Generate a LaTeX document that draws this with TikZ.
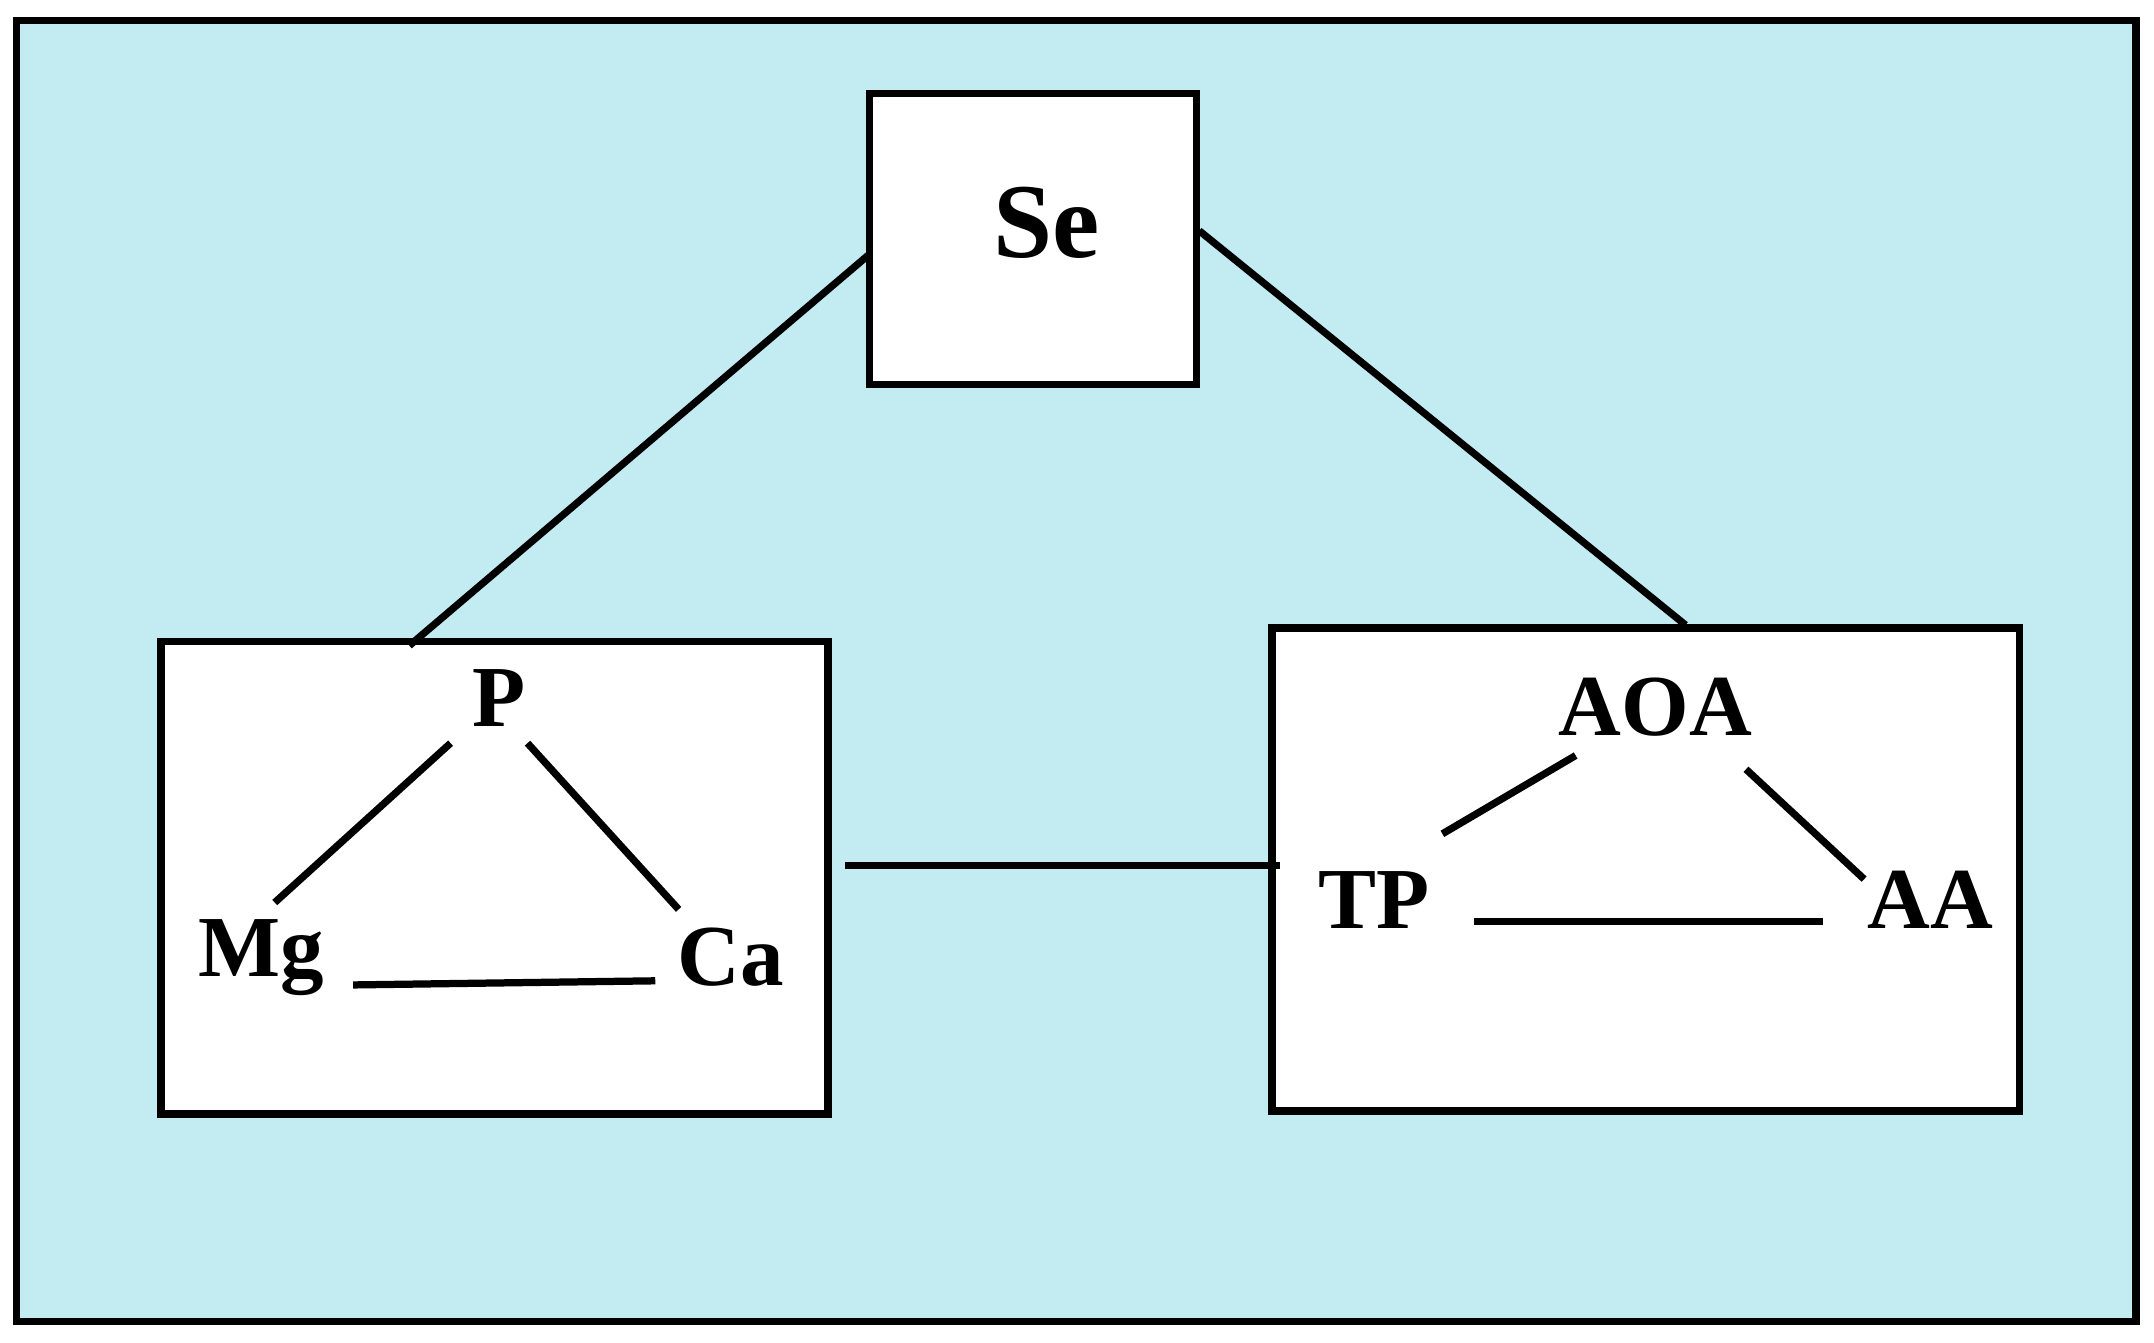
\documentclass[tikz,border=0pt]{standalone}
\usepackage{fontspec}
\setmainfont{Liberation Serif}
\definecolor{bgc}{HTML}{C2ECF2}
\begin{document}
\begin{tikzpicture}[x=0.01cm,y=-0.01cm,
  box/.style={draw=black,line width=1.6pt,fill=white},
  ln/.style={line width=1.5pt},
  lab/.style={font=\bfseries\fontsize{18}{18}\selectfont,inner sep=0pt}]
\useasboundingbox (0,0) rectangle (1568,977);
\draw[fill=bgc,line width=1.6pt] (12,15) rectangle (1555,962);
\draw[box] (633,68) rectangle (871,280);
\draw[box] (117,467) rectangle (603,811);
\draw[box] (926,457) rectangle (1470,809);
\node[lab,font=\bfseries\fontsize{22}{22}\selectfont] (se) at (762,162) {Se};
\coordinate (seL) at (633,185); \coordinate (seR) at (873,168);
\coordinate (lt) at (298,470); \coordinate (rt) at (1227,455);
\draw[ln] (seL) -- (lt);
\draw[ln] (seR) -- (rt);
\coordinate (mL) at (615,630); \coordinate (mR) at (932,630);
\draw[ln] (mL) -- (mR);
\node[lab] (p) at (363,508) {P};
\node[lab] (mg) at (190,697) {Mg};
\node[lab] (ca) at (532,697) {Ca};
\draw[ln] (328,541) -- (200,657);
\draw[ln] (384,541) -- (494,662);
\draw[ln] (257,717) -- (477,714);
\node[lab] (aoa) at (1205,515) {AOA};
\node[lab] (tp) at (1000,655) {TP};
\node[lab] (aa) at (1405,655) {AA};
\draw[ln] (1147,550) -- (1050,607);
\draw[ln] (1271,560) -- (1357,640);
\draw[ln] (1073,671) -- (1327,671);
\end{tikzpicture}
\end{document}
